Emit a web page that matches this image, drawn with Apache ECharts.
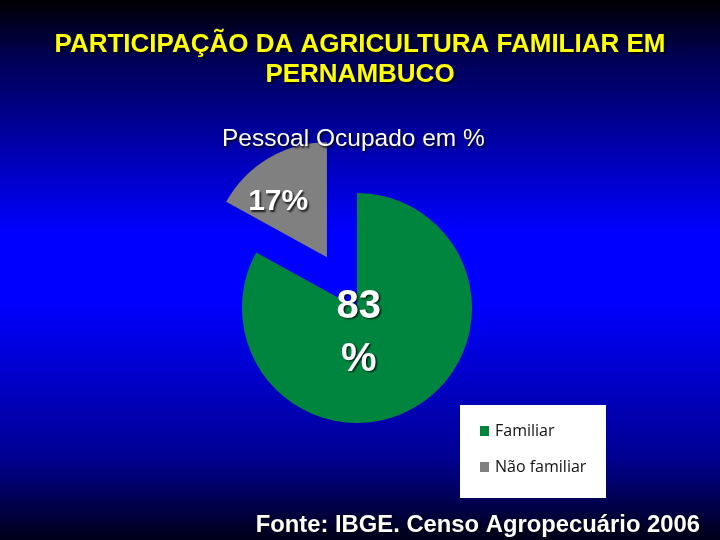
<!DOCTYPE html>
<html>
<head>
<meta charset="utf-8">
<script src="https://cdn.jsdelivr.net/npm/echarts@6/dist/echarts.min.js"></script>
<style>
html,body{margin:0;padding:0;background:#000;}
#chart{width:720px;height:540px;}
</style>
</head>
<body>
<div id="chart"></div>
<script>
const titleText = 'PARTICIPAÇÃO DA AGRICULTURA FAMILIAR EM\nPERNAMBUCO';
const subtitleText = 'Pessoal Ocupado em %';
const sourceText = 'Fonte: IBGE. Censo Agropecuário 2006';
const categories = ['Familiar', 'Não familiar'];
const values = [83, 17];
const colors = ['#00853f', '#808080'];

const FONT = '"Liberation Sans", Arial, sans-serif';
const chart = echarts.init(document.getElementById('chart'));
const shadow = {textShadowColor: 'rgba(0,0,0,0.8)', textShadowBlur: 2, textShadowOffsetX: 1.5, textShadowOffsetY: 1.5};

const labelShift = [[-29, -27], [-18, -3]];

const data = categories.map((name, i) => {
  const item = {name: name, value: values[i], itemStyle: {color: colors[i]}};
  if (i === 0) {
    item.label = Object.assign({formatter: '{c}\n%', fontSize: 40, lineHeight: 53}, shadow);
  } else {
    item.selected = true;
    item.label = Object.assign({formatter: '{c}%', fontSize: 30}, shadow);
  }
  return item;
});

chart.setOption({
  animation: false,
  backgroundColor: {
    type: 'linear', x: 0, y: 0, x2: 0, y2: 1,
    colorStops: [
      {offset: 0, color: '#000000'},
      {offset: 0.1, color: '#000050'},
      {offset: 0.43, color: '#0000ff'},
      {offset: 0.56, color: '#0000ff'},
      {offset: 0.85, color: '#000090'},
      {offset: 1, color: '#000018'}
    ]
  },
  title: [
    {
      text: titleText, left: 'center', top: 25,
      textStyle: Object.assign({color: '#ffff00', fontSize: 26, fontWeight: 'bold', fontFamily: FONT, lineHeight: 30}, shadow)
    },
    {
      text: subtitleText, left: 217, top: 122,
      textStyle: Object.assign({color: '#ffffff', fontSize: 24.5, fontWeight: 'normal', fontFamily: FONT}, shadow)
    },
    {
      text: sourceText, right: 15, top: 508,
      textStyle: Object.assign({color: '#ffffff', fontSize: 23.8, fontWeight: 'bold', fontFamily: FONT}, shadow)
    }
  ],
  graphic: [{
    type: 'rect', left: 460, top: 405, z: 0,
    shape: {width: 146, height: 93},
    style: {fill: '#ffffff'}
  }],
  legend: {
    data: categories, orient: 'vertical', left: 480, top: 423,
    padding: 0, itemGap: 20, itemWidth: 9, itemHeight: 10, icon: 'rect',
    selectedMode: false, z: 5,
    textStyle: {color: '#111111', fontSize: 16, fontFamily: '"Open Sans", sans-serif', padding: [0, 0, 0, 1]}
  },
  series: [{
    type: 'pie',
    center: [357, 308],
    radius: 115,
    startAngle: 90,
    clockwise: true,
    selectedMode: 'single',
    selectedOffset: 59,
    avoidLabelOverlap: false,
    label: {show: true, position: 'inside', color: '#ffffff', fontWeight: 'bold', fontFamily: FONT},
    labelLine: {show: false},
    labelLayout: function (p) {
      const s = labelShift[p.dataIndex];
      return {dx: s[0], dy: s[1]};
    },
    emphasis: {disabled: true},
    data: data
  }]
});
</script>
</body>
</html>
